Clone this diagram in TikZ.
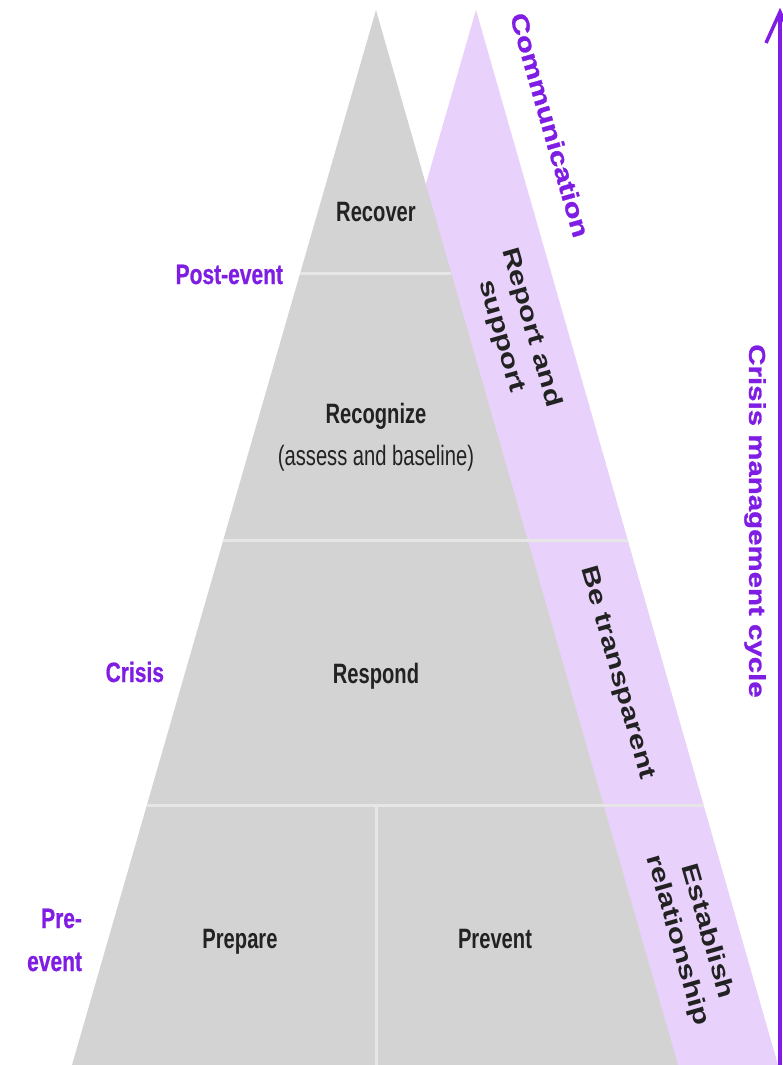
\documentclass[tikz,border=0pt]{standalone}
\usepackage{fontspec}
\setmainfont{Liberation Sans}
\newfontfamily\condfont[FakeStretch=0.72]{Liberation Sans}
\newfontfamily\phasefont[FakeStretch=0.75, FakeBold=0.6]{Liberation Sans Bold}
\newfontfamily\widefont[FakeStretch=1.3]{Liberation Sans}
\newfontfamily\headfont[FakeStretch=1.28, FakeBold=1.2]{Liberation Sans Bold}
\usetikzlibrary{calc}
\definecolor{pyrgrey}{HTML}{D3D3D3}
\definecolor{bandpurple}{HTML}{E8D2FB}
\definecolor{accent}{HTML}{7F1DE4}
\definecolor{sepline}{HTML}{E6E6E6}
\definecolor{inktext}{HTML}{222222}
\begin{document}
\begin{tikzpicture}[x=1pt,y=-1pt,
  every node/.style={inner sep=0pt, outer sep=0pt},
  stage/.style={font=\condfont\bfseries\fontsize{28}{34}\selectfont, text=inktext, anchor=base},
  stagesub/.style={font=\condfont\fontsize{28}{34}\selectfont, text=inktext, anchor=base},
  phase/.style={font=\phasefont\fontsize{28}{43}\selectfont, text=accent, align=right},
  bandtext/.style={font=\widefont\bfseries\fontsize{24}{31}\selectfont, text=inktext, align=center, rotate=-74},
  heading/.style={font=\headfont\fontsize{24}{30}\selectfont, text=accent},
  separator/.style={draw=sepline, line width=3pt},
  cyclearrow/.style={draw=accent, line width=3.5pt},
]
\useasboundingbox (0,0) rectangle (783,1065);
\fill[white] (0,0) rectangle (783,1065);

% triangles
\coordinate (gA) at (376,10);
\coordinate (gL) at (72,1065);
\coordinate (gR) at (678,1065);
\coordinate (pA) at (476,10);
\coordinate (pL) at (172,1065);
\coordinate (pR) at (778,1065);
\fill[bandpurple] (pA) -- (pL) -- (pR) -- cycle;
\fill[pyrgrey] (gA) -- (gL) -- (gR) -- cycle;

% separators
\draw[separator] ($(gA)!0.2493!(gL)$) -- ($(gA)!0.2493!(gR)$);
\draw[separator] ($(gA)!0.5024!(gL)$) -- ($(pA)!0.5024!(pR)$);
\draw[separator] ($(gA)!0.7536!(gL)$) -- ($(pA)!0.7536!(pR)$);
\coordinate (divT) at (376,805);
\coordinate (divB) at (376,1065);
\draw[separator] (divT) -- (divB);

% stage labels
\node[stage] (recover) at (376,221) {Recover};
\node[stage] (recognize) at (376,423) {Recognize};
\node[stagesub] (assess) at (376,465) {(assess and baseline)};
\node[stage] (respond) at (376,683) {Respond};
\node[stage] (prepare) at (240,948) {Prepare};
\node[stage] (prevent) at (495,948) {Prevent};

% phase labels
\node[phase, anchor=base east] (post) at (283,284) {Post-event};
\node[phase, anchor=base east] (crisis) at (164,682) {Crisis};
\node[phase, anchor=east] (pre) at (82,940) {Pre-\\event};

% communication band
\node[heading, rotate=-74] (comm) at (550,125) {Communication};
\node[bandtext] (report) at (516,332) {Report and\\support};
\node[bandtext] (transp) at (617,673) {Be transparent};
\node[bandtext] (establish) at (692,936) {Establish\\relationship};

% cycle arrow
\coordinate (arrS) at (780,1070);
\coordinate (arrE) at (780,12);
\draw[cyclearrow] (arrS) -- (arrE);
\draw[cyclearrow, line join=miter] ($(arrE)+(-14,31)$) -- (arrE) -- ($(arrE)+(14,31)$);
\node[heading, rotate=-90, font=\headfont\fontsize{23}{27}\selectfont] (cycle) at (755,521) {Crisis management cycle};
\end{tikzpicture}
\end{document}
